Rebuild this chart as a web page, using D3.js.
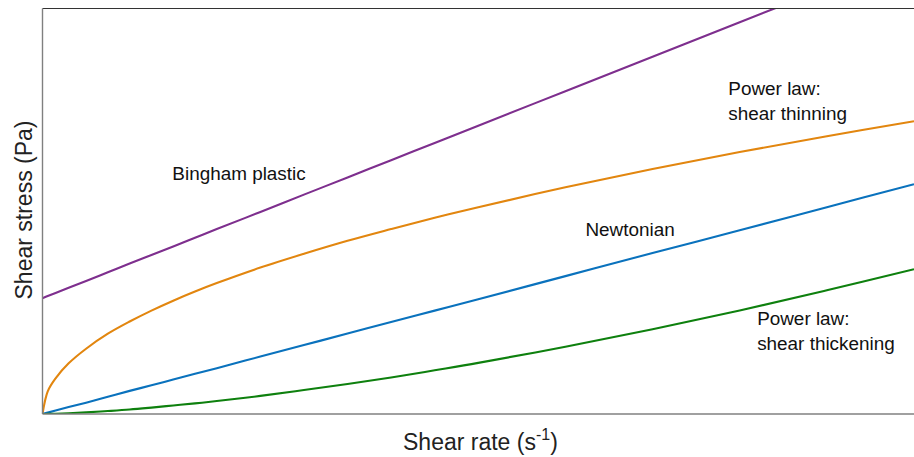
<!DOCTYPE html>
<html><head><meta charset="utf-8">
<script src="https://cdn.jsdelivr.net/npm/d3@7"></script>
<style>body{margin:0;background:#fff}svg{display:block;font-family:"Liberation Sans",Arial,Helvetica,sans-serif}</style>
</head><body><svg id="c" width="914" height="457"></svg>
<script>
// Shear rate samples (arbitrary units, 0..1)
const shearRate  = [0, 0.006, 0.015, 0.03, 0.05, 0.075, 0.1, 0.125, 0.15, 0.175, 0.2, 0.25, 0.3, 0.35, 0.4, 0.45, 0.5, 0.6, 0.7, 0.8, 0.9, 1.0];
// Shear stress (arbitrary units, 0..1 = plot height)
const thinning   = [0, 0.056, 0.088, 0.125, 0.161, 0.198, 0.228, 0.255, 0.2795, 0.302, 0.3228, 0.361, 0.395, 0.427, 0.456, 0.484, 0.510, 0.559, 0.604, 0.646, 0.685, 0.722];
const thickening = [0, 0.0002, 0.0007, 0.0019, 0.004, 0.0073, 0.011, 0.0158, 0.021, 0.0261, 0.032, 0.0446, 0.059, 0.0739, 0.090, 0.1078, 0.126, 0.166, 0.209, 0.255, 0.305, 0.357];
const newtonian  = [0, 0.0034, 0.0085, 0.017, 0.028, 0.0425, 0.057, 0.0708, 0.085, 0.0991, 0.113, 0.1416, 0.170, 0.1983, 0.227, 0.2549, 0.283, 0.340, 0.397, 0.453, 0.510, 0.5665];
const bingham    = [0.2857, 0.2908, 0.2985, 0.3112, 0.3282, 0.3495, 0.371, 0.392, 0.413, 0.4345, 0.456, 0.4982, 0.541, 0.5832, 0.626, 0.6682, 0.711, 0.796, 0.881, 0.966, 1.051, 1.136];

const seriesList = [
  {name: "Bingham plastic", values: bingham, color: "#7e2f8e"},
  {name: "Power law: shear thinning", values: thinning, color: "#e2860f"},
  {name: "Newtonian", values: newtonian, color: "#0a72bd"},
  {name: "Power law: shear thickening", values: thickening, color: "#0e800e"}
];
const labels = [
  {lines: ["Bingham plastic"], x: 0.149, y: 0.577},
  {lines: ["Power law:", "shear thinning"], x: 0.787, y: 0.786},
  {lines: ["Newtonian"], x: 0.623, y: 0.438},
  {lines: ["Power law:", "shear thickening"], x: 0.820, y: 0.219}
];

const svg = d3.select("#c");
const m = {l: 42.5, r: 914, t: 8.5, b: 414};
const x = d3.scaleLinear().domain([0, 1]).range([m.l, m.r]);
const y = d3.scaleLinear().domain([0, 1]).range([m.b, m.t]);

svg.append("defs").append("clipPath").attr("id", "clip")
  .append("rect").attr("x", m.l).attr("y", m.t).attr("width", m.r - m.l).attr("height", m.b - m.t);

const line = d3.line().x((d, i) => x(shearRate[i])).y(d => y(d)).curve(d3.curveCatmullRom.alpha(0.5));
const g = svg.append("g").attr("clip-path", "url(#clip)");
seriesList.forEach(s => {
  g.append("path").attr("d", line(s.values)).attr("fill", "none")
    .attr("stroke", s.color).attr("stroke-width", 2.1).attr("stroke-linejoin", "round");
});

// frame
svg.append("line").attr("x1", m.l).attr("x2", m.r).attr("y1", m.t).attr("y2", m.t).attr("stroke", "#333").attr("stroke-width", 1);
svg.append("line").attr("x1", m.l).attr("x2", m.l).attr("y1", m.t).attr("y2", m.b).attr("stroke", "#808080").attr("stroke-width", 1.4);
svg.append("line").attr("x1", m.l).attr("x2", m.r).attr("y1", m.b).attr("y2", m.b).attr("stroke", "#808080").attr("stroke-width", 1.4);

labels.forEach(l => {
  const t = svg.append("text").attr("x", x(l.x)).attr("y", y(l.y)).attr("font-size", 18.9).attr("fill", "#111");
  l.lines.forEach((s, i) => t.append("tspan").attr("x", x(l.x)).attr("dy", i ? 24.5 : 0).text(s));
});

const xt = svg.append("text").attr("x", 403).attr("y", 450).attr("font-size", 23).attr("fill", "#222");
xt.append("tspan").text("Shear rate (s");
xt.append("tspan").attr("font-size", 16).attr("dy", -10).text("-1");
xt.append("tspan").attr("dy", 10).text(")");

svg.append("text").attr("transform", "translate(32,210) rotate(-90)").attr("text-anchor", "middle")
  .attr("font-size", 23).attr("fill", "#222").text("Shear stress (Pa)");
</script></body></html>
